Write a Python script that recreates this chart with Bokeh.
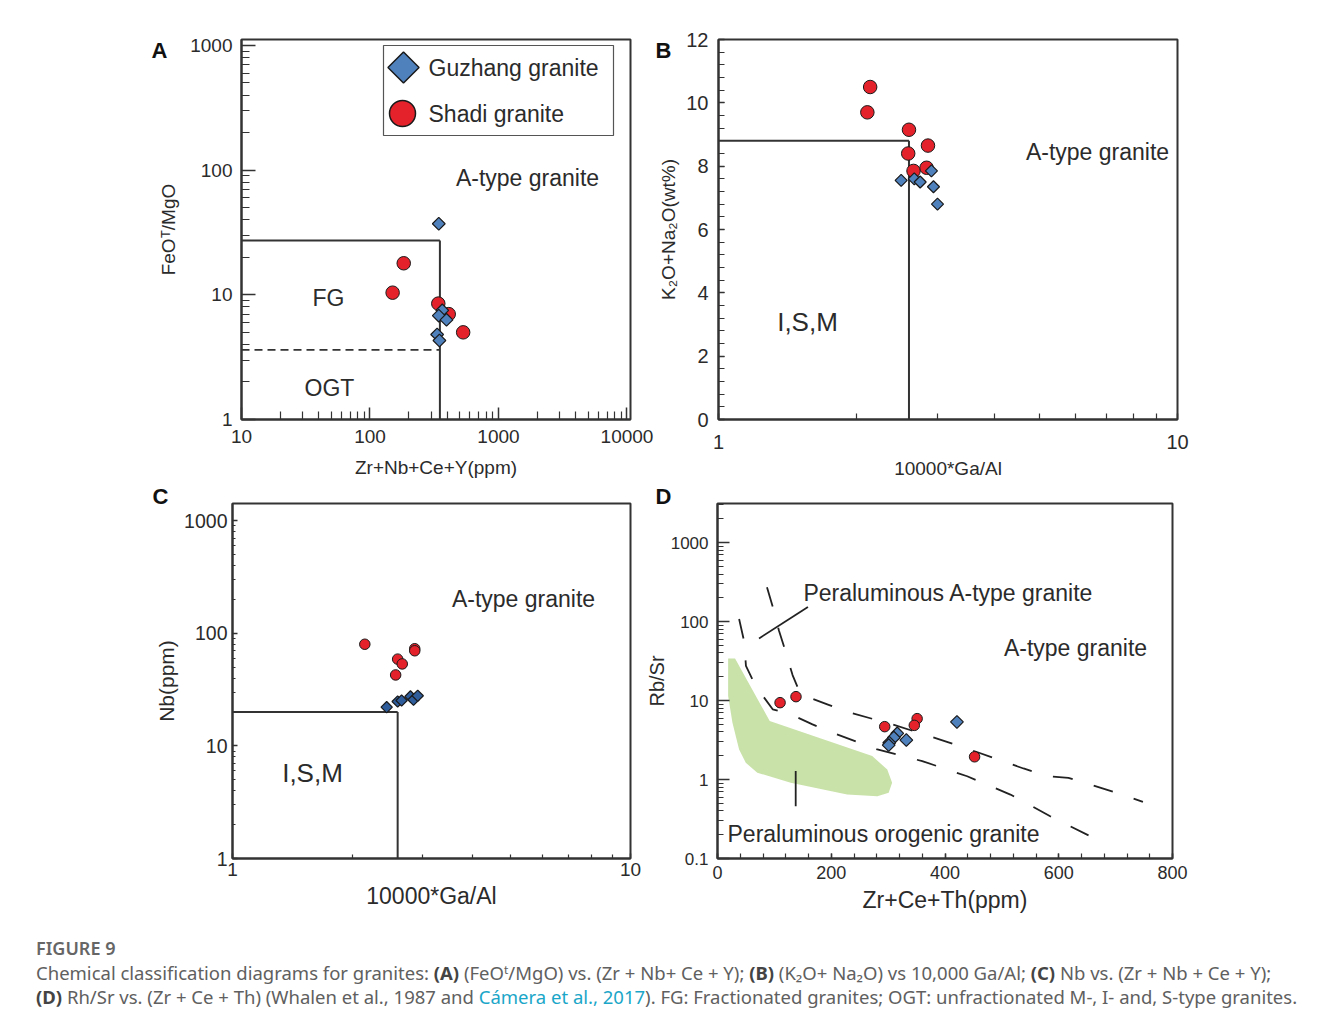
from bokeh.plotting import figure
from bokeh.models import Range1d, LinearScale, FixedTicker, CustomJSTickFormatter, Label, Div, Title
from bokeh.layouts import column, row
from bokeh.embed import file_html
from bokeh.resources import INLINE

FONT = "Liberation Sans"
TXT = "#2b2b2b"
RED = "#e3222b"
BLUE = "#4f81bd"
BLUE_C = "#2f5d9b"
LINE = "#333333"
GREEN = "#c9e2a9"

# ---------------- data ----------------
# Panel A: FeOT/MgO vs Zr+Nb+Ce+Y
A_shadi_x = [183, 150, 340, 410, 531]
A_shadi_y = [17.9, 10.4, 8.5, 7.0, 5.0]
A_guzhang_x = [343, 365, 343, 394, 333, 347]
A_guzhang_y = [37.1, 7.5, 6.8, 6.3, 4.8, 4.3]
A_bound_x = 350      # vertical boundary (ppm)
A_fg_top = 27.3      # FG upper boundary
A_ogt_top = 3.62     # FG / OGT dashed boundary

# Panel B: K2O+Na2O vs 10000*Ga/Al
B_shadi_x = [2.14, 2.11, 2.60, 2.86, 2.59, 2.66, 2.84]
B_shadi_y = [10.5, 9.7, 9.15, 8.65, 8.4, 7.85, 7.95]
B_guzhang_x = [2.50, 2.67, 2.75, 2.91, 2.94, 3.00]
B_guzhang_y = [7.55, 7.6, 7.5, 7.85, 7.35, 6.8]
B_bound_x = 2.6
B_bound_y = 8.8

# Panel C: Nb vs 10000*Ga/Al
C_shadi_x = [2.15, 2.60, 2.67, 2.57, 2.87, 2.87]
C_shadi_y = [80, 59, 53.5, 42.7, 73, 70]
C_guzhang_x = [2.44, 2.60, 2.66, 2.80, 2.85, 2.92]
C_guzhang_y = [22.1, 24.8, 25.3, 27.5, 25.7, 27.9]
C_bound_x = 2.6
C_bound_y = 20

# Panel D: Rb/Sr vs Zr+Ce+Th
D_shadi_x = [110, 138, 294, 351, 346, 452]
D_shadi_y = [9.4, 11.2, 4.67, 5.9, 4.85, 1.94]
D_guzhang_x = [421, 316, 310, 332, 302, 301]
D_guzhang_y = [5.36, 3.84, 3.39, 3.16, 2.92, 2.73]
D_upper_x = [87, 98, 108, 120, 132, 146, 193, 228, 307, 386, 456, 538, 582, 617, 661, 699, 748]
D_upper_y = [272, 147, 77, 41, 21, 12.0, 8.95, 7.2, 5.0, 3.3, 2.23, 1.38, 1.10, 1.05, 0.84, 0.69, 0.52]
D_lower_x = [38, 47, 50, 67, 97, 129, 167, 205, 281, 360, 439, 515, 585, 658]
D_lower_y = [108, 55.6, 27.5, 15.3, 7.74, 6.69, 4.99, 3.84, 2.40, 1.71, 1.10, 0.645, 0.343, 0.187]
D_field_x = [18.7, 30.9, 91.8, 272, 298.5, 307, 301, 281, 228, 128.7, 70, 49.7, 38, 26.3, 18.7]
D_field_y = [34.1, 34.1, 5.52, 1.98, 1.34, 0.91, 0.68, 0.615, 0.645, 0.91, 1.22, 1.63, 2.40, 5.25, 11.4]
D_pointer_x = [73, 159]
D_pointer_y = [61.2, 153]
D_tick_x = [137.5, 137.5]
D_tick_y = [0.46, 1.28]

log_majors_A_x = [10, 100, 1000, 10000]
log_majors_1_1000 = [1, 10, 100, 1000]
log_majors_D_y = [0.1, 1, 10, 100, 1000]


def minors(decades, upto=None):
    out = []
    for d in decades:
        for k in range(2, 10):
            v = k * d
            if upto is None or v <= upto:
                out.append(v)
    return out


def make_fig(w, h, xt, yt, xr, yr, fl, fr, ft, fb):
    p = figure(width=w, height=h, x_axis_type=xt, y_axis_type=yt,
               x_range=Range1d(*xr), y_range=Range1d(*yr),
               output_backend="svg", toolbar_location=None,
               min_border_left=fl, min_border_right=fr,
               min_border_top=ft, min_border_bottom=fb)
    p.grid.visible = False
    p.outline_line_color = LINE
    p.outline_line_width = 2
    p.background_fill_color = "white"
    p.border_fill_color = "white"
    return p


def style_axis(ax, label, lsize, tsize, maj_in, min_in, lstand, tstand, ticks, mticks):
    ax.axis_label = label
    ax.axis_label_text_font = FONT
    ax.axis_label_text_font_size = f"{lsize}px"
    ax.axis_label_text_font_style = "normal"
    ax.axis_label_text_color = TXT
    ax.axis_label_standoff = tstand
    ax.major_label_text_font = FONT
    ax.major_label_text_font_size = f"{tsize}px"
    ax.major_label_text_color = TXT
    ax.major_label_standoff = lstand
    ax.major_tick_in = maj_in
    ax.major_tick_out = 0
    ax.minor_tick_in = min_in
    ax.minor_tick_out = 0
    ax.axis_line_color = LINE
    ax.axis_line_width = 2
    ax.major_tick_line_color = LINE
    ax.major_tick_line_width = 1.5
    ax.minor_tick_line_color = LINE
    ax.minor_tick_line_width = 1.2
    ax.ticker = FixedTicker(ticks=ticks, minor_ticks=mticks)
    ax.formatter = CustomJSTickFormatter(code="return String(tick)")


def lab(p, fl, fbot, px, py, text, size, align="center"):
    p.add_layout(Label(x=px - fl, y=fbot - py, x_units="screen", y_units="screen",
                       text=text, text_font=FONT, text_font_size=f"{size}px",
                       text_color=TXT, text_align=align, text_baseline="middle"))


def letter(p, text, offset, standoff):
    p.title = Title(text=text, align="left", offset=offset, standoff=standoff,
                    vertical_align="bottom", text_font=FONT, text_font_size="22px",
                    text_font_style="bold", text_color="#111111")


def points(p, sx, sy, gx, gy, csize, dsize, dcolor):
    p.scatter(sx, sy, marker="circle", size=csize, fill_color=RED,
              line_color="#1a1a1a", line_width=1)
    p.scatter(gx, gy, marker="square", angle=0.785398, size=dsize, fill_color=dcolor,
              line_color="#1a1a1a", line_width=1.2)


# ---------------- Panel A ----------------
pA = make_fig(655, 485, "log", "log", (10, 10650), (1, 1115), 241, 25, 39, 66)
letter(pA, "A", -90, -46)
style_axis(pA.xaxis[0], "Zr+Nb+Ce+Y(ppm)", 19, 19, 12, 8, 10, 11,
           log_majors_A_x, minors([10, 100, 1000]))
style_axis(pA.yaxis[0], "FeO\u1d40/MgO", 19, 19, 14, 8, 9, 8,
           log_majors_1_1000, minors([1, 10, 100]))
pA.line([10, A_bound_x], [A_fg_top, A_fg_top], line_color=LINE, line_width=2)
pA.line([A_bound_x, A_bound_x], [1, A_fg_top], line_color=LINE, line_width=2)
pA.line([10, A_bound_x], [A_ogt_top, A_ogt_top], line_color=LINE, line_width=1.8, line_dash="8 5")
points(pA, A_shadi_x, A_shadi_y, A_guzhang_x, A_guzhang_y, 13.5, 9, BLUE)
# legend (drawn in frame pixel space)
pA.extra_x_ranges = {"px": Range1d(0, 389)}
pA.extra_y_ranges = {"py": Range1d(0, 380)}
pA.extra_x_scales = {"px": LinearScale()}
pA.extra_y_scales = {"py": LinearScale()}
pA.quad(left=[142], right=[372], bottom=[284], top=[374], x_range_name="px", y_range_name="py",
        fill_color="white", line_color="#555555", line_width=1.2)
pA.scatter([162], [352], marker="square", angle=0.785398, size=22, fill_color=BLUE,
           line_color="#1a1a1a", line_width=1.5, x_range_name="px", y_range_name="py")
pA.scatter([161], [306], marker="circle", size=26, fill_color=RED,
           line_color="#1a1a1a", line_width=1.5, x_range_name="px", y_range_name="py")
lab(pA, 241, 419, 428, 67, "Guzhang granite", 23, align="left")
lab(pA, 241, 419, 428, 113, "Shadi granite", 23, align="left")
lab(pA, 241, 419, 527, 177, "A-type granite", 23)
lab(pA, 241, 419, 328, 297, "FG", 23)
lab(pA, 241, 419, 329, 387, "OGT", 23)

# ---------------- Panel B ----------------
pB = make_fig(673, 485, "log", "linear", (1, 10), (0, 12), 63, 151, 39, 64)
letter(pB, "B", -63, -46)
style_axis(pB.xaxis[0], "10000*Ga/Al", 19, 20, 6, 6, 15, 6, [1, 10], minors([1]))
style_axis(pB.yaxis[0], "K\u2082O+Na\u2082O(wt%)", 19, 20, 6, 6, 10, 4,
           [0, 2, 4, 6, 8, 10, 12], [i * 0.4 for i in range(31)])
pB.line([1, B_bound_x], [B_bound_y, B_bound_y], line_color=LINE, line_width=2)
pB.line([B_bound_x, B_bound_x], [0, B_bound_y], line_color=LINE, line_width=2)
points(pB, B_shadi_x, B_shadi_y, B_guzhang_x, B_guzhang_y, 13.5, 8.5, BLUE)
lab(pB, 718, 421, 1097, 153, "A-type granite", 23)
lab(pB, 718, 421, 807, 323, "I,S,M", 26)

# ---------------- Panel C ----------------
pC = make_fig(642, 430, "log", "log", (1, 10), (1, 1423), 232, 12, 18, 56)
letter(pC, "C", -80, -10)
style_axis(pC.xaxis[0], "10000*Ga/Al", 23, 19, 5, 4, 4, 4, [1, 10], minors([1]))
style_axis(pC.yaxis[0], "Nb(ppm)", 21, 19.5, 5, 3, 5, 3,
           log_majors_1_1000, minors([1, 10, 100]))
pC.line([1, C_bound_x], [C_bound_y, C_bound_y], line_color=LINE, line_width=2)
pC.line([C_bound_x, C_bound_x], [1, C_bound_y], line_color=LINE, line_width=2)
points(pC, C_shadi_x, C_shadi_y, C_guzhang_x, C_guzhang_y, 10.5, 8, BLUE_C)
lab(pC, 232, 859, 523, 599, "A-type granite", 23)
lab(pC, 232, 859, 312, 773, "I,S,M", 26)

# ---------------- Panel D ----------------
pD = make_fig(686, 430, "linear", "log", (0, 800), (0.1, 3126), 75, 156, 18, 57)
letter(pD, "D", -62, -10)
style_axis(pD.xaxis[0], "Zr+Ce+Th(ppm)", 23, 18, 5, 5, 7, 5,
           [0, 200, 400, 600, 800], [i * 40 for i in range(21)])
style_axis(pD.yaxis[0], "Rb/Sr", 20, 17, 12, 6, 9, 0,
           log_majors_D_y, minors([0.1, 1, 10, 100]) + [2000, 3000])
pD.patch(D_field_x, D_field_y, fill_color=GREEN, line_color=None)
pD.line(D_upper_x, D_upper_y, line_color="#222222", line_width=1.8, line_dash="20 22")
pD.line(D_lower_x, D_lower_y, line_color="#222222", line_width=1.8, line_dash="20 22")
pD.line(D_pointer_x, D_pointer_y, line_color="#222222", line_width=1.8)
pD.line(D_tick_x, D_tick_y, line_color="#222222", line_width=1.8)
points(pD, D_shadi_x, D_shadi_y, D_guzhang_x, D_guzhang_y, 10.5, 9, BLUE)
lab(pD, 717, 858, 948, 592, "Peraluminous A-type granite", 23)
lab(pD, 717, 858, 1075, 647, "A-type granite", 23)
lab(pD, 717, 858, 883, 833, "Peraluminous orogenic granite", 23)

# ---------------- caption ----------------
caption_html = (
    '<div style="padding:16px 0 0 31px; font-family:\'Noto Sans\',sans-serif; color:#606060; white-space:nowrap;">'
    '<div style="font-size:18px; font-weight:600; color:#666666; line-height:25px;">FIGURE 9</div>'
    '<div style="font-size:18.5px; line-height:24px;">'
    'Chemical classification diagrams for granites: <b style="color:#444">(A)</b> (FeO\u1d57/MgO) vs. (Zr + Nb+ Ce + Y); '
    '<b style="color:#444">(B)</b> (K\u2082O+ Na\u2082O) vs 10,000 Ga/Al; '
    '<b style="color:#444">(C)</b> Nb vs. (Zr + Nb + Ce + Y);<br>'
    '<b style="color:#444">(D)</b> Rh/Sr vs. (Zr + Ce + Th) (Whalen et al., 1987 and '
    '<span style="color:#1aa6c8">C\u00e1mera et al., 2017</span>). FG: Fractionated granites; '
    'OGT: unfractionated M-, I- and, S-type granites.</div></div>'
)
cap = Div(text=caption_html, width=1328, height=119)

layout = column(row(pA, pB), row(pC, pD), cap)

open("out.html", "w").write(file_html(layout, INLINE))
